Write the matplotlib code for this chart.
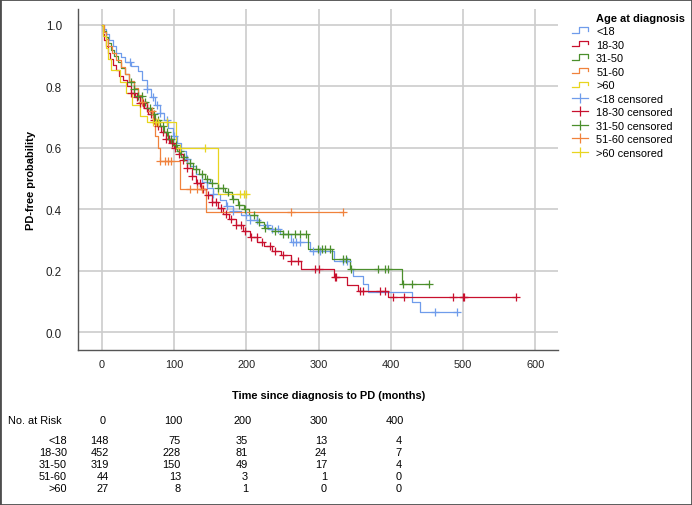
import numpy as np
import matplotlib
matplotlib.use('Agg')
import matplotlib.pyplot as plt
from matplotlib.lines import Line2D
from matplotlib.legend_handler import HandlerBase
from matplotlib.patches import Rectangle

# grupos e cores
groups = ['<18', '18-30', '31-50', '51-60', '>60']
colors = ['#6f9ceb', '#c8102e', '#4b8f2c', '#f0823c', '#e8d51f']

# curvas KM (tempo do evento, sobrevida depois do evento)
t_lt18 = [0, 3, 6, 10, 15, 20, 26, 32, 40, 50, 56, 62, 68, 74, 80, 86, 92, 98, 104, 110,
          116, 122, 130, 138, 146, 154, 163, 172, 182, 192, 205, 218, 230, 246, 262, 288,
          321, 344, 348, 361, 368, 429, 440]
s_lt18 = [1.0, 0.986, 0.97, 0.95, 0.93, 0.91, 0.895, 0.88, 0.865, 0.85, 0.82, 0.79, 0.765,
          0.74, 0.715, 0.69, 0.665, 0.64, 0.615, 0.59, 0.565, 0.54, 0.515, 0.49, 0.47, 0.45,
          0.43, 0.41, 0.395, 0.38, 0.365, 0.35, 0.335, 0.319, 0.294, 0.265, 0.232, 0.205,
          0.183, 0.156, 0.131, 0.097, 0.066]
end_lt18 = 491
cens_lt18 = [39, 62, 70, 76, 80, 90, 100, 118, 145, 154, 173, 182, 200, 205, 214, 228, 235,
             244, 265, 269, 274, 292, 302, 334, 339, 461, 491]

t_18_30 = [0, 1, 3, 5, 8, 11, 15, 19, 24, 29, 34, 40, 46, 52, 58, 64, 70, 76, 82, 88, 94,
           100, 106, 112, 118, 124, 130, 137, 144, 152, 160, 168, 176, 185, 195, 205, 215,
           225, 236, 248, 262, 275, 321, 339, 355, 396]
s_18_30 = [1.0, 0.97, 0.95, 0.93, 0.91, 0.89, 0.87, 0.855, 0.835, 0.82, 0.80, 0.78, 0.765,
           0.745, 0.73, 0.71, 0.69, 0.67, 0.65, 0.63, 0.615, 0.60, 0.58, 0.56, 0.535, 0.51,
           0.485, 0.465, 0.445, 0.425, 0.405, 0.385, 0.37, 0.35, 0.33, 0.31, 0.295, 0.28,
           0.265, 0.25, 0.232, 0.205, 0.178, 0.153, 0.135, 0.113]
end_18_30 = 574
cens_18_30 = [40, 44, 48, 52, 57, 63, 68, 72, 78, 84, 88, 93, 97, 101, 106, 112, 118, 124,
              131, 136, 140, 147, 152, 158, 165, 172, 178, 185, 192, 198, 206, 214, 222, 232,
              240, 250, 262, 272, 295, 300, 322, 324, 358, 362, 385, 392, 403, 418, 486, 500,
              502, 574]

t_31_50 = [0, 2, 5, 9, 13, 17, 22, 27, 32, 38, 44, 50, 56, 62, 68, 74, 80, 86, 92, 98, 104,
           110, 118, 126, 134, 142, 150, 160, 170, 180, 188, 196, 204, 214, 224, 236, 250,
           285, 318, 344, 416]
s_31_50 = [1.0, 0.98, 0.96, 0.94, 0.92, 0.90, 0.88, 0.86, 0.84, 0.815, 0.79, 0.77, 0.75,
           0.73, 0.71, 0.69, 0.67, 0.65, 0.63, 0.61, 0.59, 0.57, 0.55, 0.53, 0.515, 0.50,
           0.485, 0.47, 0.455, 0.435, 0.415, 0.40, 0.38, 0.36, 0.34, 0.33, 0.319, 0.27,
           0.238, 0.205, 0.156]
end_31_50 = 453
cens_31_50 = [40, 45, 50, 55, 60, 66, 72, 78, 84, 90, 96, 102, 108, 114, 122, 130, 138, 145,
              152, 160, 168, 175, 182, 190, 198, 210, 218, 226, 240, 250, 258, 267, 274, 282,
              299, 304, 309, 316, 334, 338, 345, 382, 392, 396, 417, 429, 453]

t_51_60 = [0, 3, 6, 9, 14, 20, 26, 32, 38, 45, 50, 55, 62, 70, 73, 77, 80, 108, 144]
s_51_60 = [1.0, 0.977, 0.955, 0.932, 0.909, 0.886, 0.864, 0.841, 0.818, 0.795, 0.773, 0.75,
           0.72, 0.68, 0.64, 0.60, 0.558, 0.466, 0.39]
end_51_60 = 334
cens_51_60 = [55, 69, 80, 87, 92, 96, 122, 131, 138, 262, 334]

t_gt60 = [0, 2, 5, 8, 12, 25, 33, 42, 52, 62, 103, 160]
s_gt60 = [1.0, 0.963, 0.926, 0.889, 0.852, 0.815, 0.778, 0.741, 0.704, 0.683, 0.60, 0.45]
end_gt60 = 200
cens_gt60 = [70, 75, 77, 90, 108, 143, 191, 196, 200]

# tabela de numero em risco
risk_times = [0, 100, 200, 300, 400]
risk_lt18 = [148, 75, 35, 13, 4]
risk_18_30 = [452, 228, 81, 24, 7]
risk_31_50 = [319, 150, 49, 17, 4]
risk_51_60 = [44, 13, 3, 1, 0]
risk_gt60 = [27, 8, 1, 0, 0]

curves = [(t_lt18, s_lt18, end_lt18, cens_lt18),
          (t_18_30, s_18_30, end_18_30, cens_18_30),
          (t_31_50, s_31_50, end_31_50, cens_31_50),
          (t_51_60, s_51_60, end_51_60, cens_51_60),
          (t_gt60, s_gt60, end_gt60, cens_gt60)]
risks = [risk_lt18, risk_18_30, risk_31_50, risk_51_60, risk_gt60]

plt.rcParams['font.family'] = ['Liberation Sans', 'DejaVu Sans']
plt.rcParams['font.size'] = 7.9

W, H = 692, 506
fig = plt.figure(figsize=(W / 100, H / 100), dpi=100)
ax = fig.add_axes([78 / W, 1 - 351 / H, 480 / W, 341 / H])

# linhas em degrau
for (t, s, end, cens), c in zip(curves, colors):
    ax.step(list(t) + [end], list(s) + [s[-1]], where='post', color=c, lw=0.9, zorder=3)

# censurados (+) em cima da curva
for (t, s, end, cens), c in zip(curves, colors):
    idx = np.searchsorted(t, cens, side='right') - 1
    ax.plot(cens, np.array(s)[idx], ls='none', marker='+', ms=5.5, mew=0.9, color=c, zorder=4)

ax.set_xlim(-33.2, 631.5)
ax.set_ylim(-0.058, 1.052)
ax.set_xticks(risk_times + [500, 600])
ax.set_yticks([0.0, 0.2, 0.4, 0.6, 0.8, 1.0])
ax.set_yticklabels(['0.0', '0.2', '0.4', '0.6', '0.8', '1.0'])
ax.grid(True, color='#cccccc', lw=1.2)
ax.set_axisbelow(True)
for sp in ['top', 'right']:
    ax.spines[sp].set_visible(False)
for sp in ['left', 'bottom']:
    ax.spines[sp].set_color('#555555')
    ax.spines[sp].set_linewidth(1)
ax.tick_params(axis='y', length=0, pad=11.5, colors='#222222', labelsize=8.4)
ax.tick_params(axis='x', length=0, pad=6.5, colors='#222222', labelsize=7.9)
ax.set_ylabel('PD-free probability', fontweight='bold', labelpad=7)

# titulo do eixo x
fig.text(329 / W, 1 - 396 / H, 'Time since diagnosis to PD (months)', fontweight='bold',
         ha='center', va='center')


# simbolo de degrau na legenda
class HandlerStep(HandlerBase):
    def create_artists(self, legend, orig_handle, xdescent, ydescent, width, height, fontsize, trans):
        x0, y0 = -xdescent, -ydescent
        xs = [x0, x0 + width * 0.4, x0 + width * 0.4, x0 + width, x0 + width]
        ys = [y0 + height * 0.15, y0 + height * 0.15, y0 + height * 0.85, y0 + height * 0.85, y0 + height * 0.4]
        line = Line2D(xs, ys, color=orig_handle.get_color(), lw=0.9)
        line.set_transform(trans)
        return [line]


handles = [Line2D([], [], color=c, lw=0.9) for c in colors]
handles += [Line2D([], [], color=c, lw=0.9, marker='|', ms=7, mew=0.9) for c in colors]
labels = groups + [g + ' censored' for g in groups]
hmap = {h: HandlerStep() for h in handles[:5]}
fig.text(596 / W, 1 - 19 / H, 'Age at diagnosis', fontweight='bold', ha='left', va='center')
fig.legend(handles, labels, handler_map=hmap, loc='upper left', bbox_to_anchor=(572 / W, 1 - 27 / H),
           frameon=False, borderpad=0, borderaxespad=0, handlelength=1.5, handletextpad=0.7,
           labelspacing=0.32)

# tabela No. at Risk
head_x = [103, 173, 243, 319, 395]
col_x = [109, 181, 248, 327, 402]
row_y = [441, 453, 465, 477, 489]
fig.text(8 / W, 1 - 421 / H, 'No. at Risk', ha='left', va='center')
for x, tt in zip(head_x, risk_times):
    fig.text(x / W, 1 - 421 / H, str(tt), ha='center', va='center')
for g, r, y in zip(groups, risks, row_y):
    fig.text(67 / W, 1 - y / H, g, ha='right', va='center')
    for x, n in zip(col_x, r):
        fig.text(x / W, 1 - y / H, str(n), ha='right', va='center')

# moldura da figura
fig.patches.append(Rectangle((0, 0), 1, 1, transform=fig.transFigure, fill=False, ec='#4d4d4d', lw=2))

plt.savefig('out.png', dpi=100)
